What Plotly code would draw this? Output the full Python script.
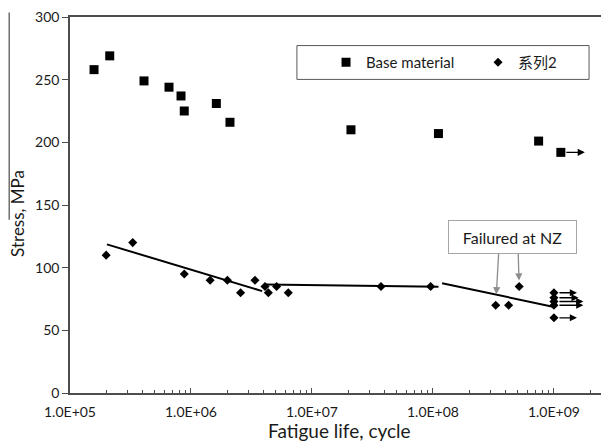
import math
import plotly.graph_objects as go

# ---- data ----
base_cycles = [1.58e5, 2.13e5, 4.09e5, 6.58e5, 8.27e5, 8.8e5, 1.62e6, 2.1e6, 2.1e7, 1.11e8, 7.47e8, 1.14e9]
base_stress = [258, 269, 249, 244, 237, 225, 231, 216, 210, 207, 201, 192]

s2_cycles = [1.99e5, 3.3e5, 8.8e5, 1.44e6, 2.0e6, 2.57e6, 3.38e6, 4.09e6, 4.36e6, 5.1e6,
             6.37e6, 3.72e7, 9.57e7, 3.3e8, 4.22e8, 5.16e8, 1e9, 1e9, 1e9, 1e9, 1e9]
s2_stress = [110, 120, 95, 90, 90, 80, 90, 85, 80, 85,
             80, 85, 85, 70, 70, 85, 80, 76, 73, 70, 60]

# run-out arrows (start cycles, end cycles, stress)
runout_start = [1.14e9, 1e9, 1e9, 1e9, 1e9, 1e9]
runout_end = [1.8e9, 1.55e9, 1.6e9, 1.75e9, 1.75e9, 1.55e9]
runout_stress = [192, 80, 76, 73, 70, 60]

# fitted trend segments
trend1_x, trend1_y = [2.02e5, 3.88e6], [118.6, 81.3]
trend2_x, trend2_y = [4.17e6, 1.11e8], [86.6, 84.7]
trend3_x, trend3_y = [1.19e8, 1e9], [87.6, 68.7]

# callout targets
nz_cycles = [3.3e8, 5.16e8]
nz_stress = [70, 85]

x_tickvals = [1e5, 1e6, 1e7, 1e8, 1e9]
x_ticktext = ["1.0E+05", "1.0E+06", "1.0E+07", "1.0E+08", "1.0E+09"]
y_tickvals = [0, 50, 100, 150, 200, 250, 300]

FONT = "Lato, 'Noto Sans CJK SC', sans-serif"
TXT = "#1a1a1a"
AX = "#4d4d4d"

fig = go.Figure()
fig.add_trace(go.Scatter(x=base_cycles, y=base_stress, mode="markers", name="Base material",
                         legend="legend",
                         marker=dict(symbol="square", size=9, color="black")))
fig.add_trace(go.Scatter(x=s2_cycles, y=s2_stress, mode="markers", name="系列2",
                         legend="legend2",
                         marker=dict(symbol="diamond", size=7, color="black")))
for tx, ty in [(trend1_x, trend1_y), (trend2_x, trend2_y), (trend3_x, trend3_y)]:
    fig.add_trace(go.Scatter(x=tx, y=ty, mode="lines", showlegend=False,
                             line=dict(color="black", width=2)))

annotations = []
for xs, xe, s in zip(runout_start, runout_end, runout_stress):
    annotations.append(dict(x=math.log10(xe), y=s, ax=math.log10(xs), ay=s,
                            xref="x", yref="y", axref="x", ayref="y", text="",
                            showarrow=True, arrowhead=2, arrowsize=1.1, arrowwidth=1.3,
                            arrowcolor="black", standoff=0, startstandoff=4))

# callout box
annotations.append(dict(x=0.821, y=0.416, xref="paper", yref="paper", text="Failured at NZ",
                        showarrow=False, xanchor="center", yanchor="middle",
                        font=dict(family=FONT, size=16, color=TXT),
                        bordercolor="#a6a6a6", borderwidth=1, borderpad=1,
                        width=125, height=30, bgcolor="white"))
for (cx, cy), (axp, ayp, so) in zip(zip(nz_cycles, nz_stress), [(3, -53, 11), (-1, -34, 6)]):
    annotations.append(dict(x=math.log10(cx), y=cy, xref="x", yref="y", ax=axp, ay=ayp,
                            text="", showarrow=True, arrowhead=2, arrowsize=1.1,
                            arrowwidth=1.3, arrowcolor="#8c8c8c", standoff=so))

# axis titles
annotations.append(dict(x=0.5, y=-0.1368, xref="paper", yref="paper", text="Fatigue life, cycle",
                        showarrow=False, xanchor="center", yanchor="bottom",
                        font=dict(family=FONT, size=19, color=TXT)))
annotations.append(dict(x=-0.0965, y=0.479, xref="paper", yref="paper", text="Stress, MPa",
                        showarrow=False, xanchor="center", yanchor="middle", textangle=-90,
                        font=dict(family=FONT, size=17, color=TXT)))

minor_vals = [k * 10 ** n for n in range(5, 10) for k in range(2, 10)]

leg_common = dict(orientation="h", yanchor="middle", xanchor="left", y=0.879,
                  bgcolor="rgba(0,0,0,0)", borderwidth=0,
                  font=dict(family=FONT, size=15, color=TXT))

# page body adds an 8px offset, so the figure is 8px smaller and margins shifted
fig.update_layout(
    width=601, height=437,
    margin=dict(l=62, r=0, t=5, b=52),
    paper_bgcolor="white", plot_bgcolor="white",
    font=dict(family=FONT, size=13, color=TXT),
    showlegend=True,
    legend=dict(x=0.475, **leg_common),
    legend2=dict(x=0.757, **leg_common),
    xaxis=dict(type="log", range=[5, 9.455], tickmode="array", tickvals=x_tickvals,
               ticktext=x_ticktext, ticks="inside", ticklen=5, tickcolor=AX,
               showline=True, linecolor=AX, linewidth=1.5, mirror=True,
               showgrid=False, zeroline=False, ticklabelstandoff=5,
               ticklabeloverflow="allow", tickfont=dict(size=14),
               minor=dict(tickvals=minor_vals, ticks="inside", ticklen=3, tickcolor=AX,
                          showgrid=False)),
    yaxis=dict(range=[0, 300], tickmode="array", tickvals=y_tickvals,
               ticks="outside", ticklen=6, tickcolor=AX,
               showline=True, linecolor=AX, linewidth=1.5, ticklabeloverflow="allow",
               showgrid=False, zeroline=False, tickfont=dict(size=14)),
    annotations=annotations,
    shapes=[
        dict(type="rect", xref="paper", yref="paper", x0=0.421, x1=0.963, y0=0.834, y1=0.924,
             line=dict(color="#595959", width=1), fillcolor="rgba(0,0,0,0)", layer="below"),
        dict(type="line", xref="paper", yref="paper", x0=-0.1128, x1=-0.1128, y0=1.012, y1=0.4605,
             line=dict(color="#595959", width=1.3)),
    ],
)

fig.write_html("out.html")
